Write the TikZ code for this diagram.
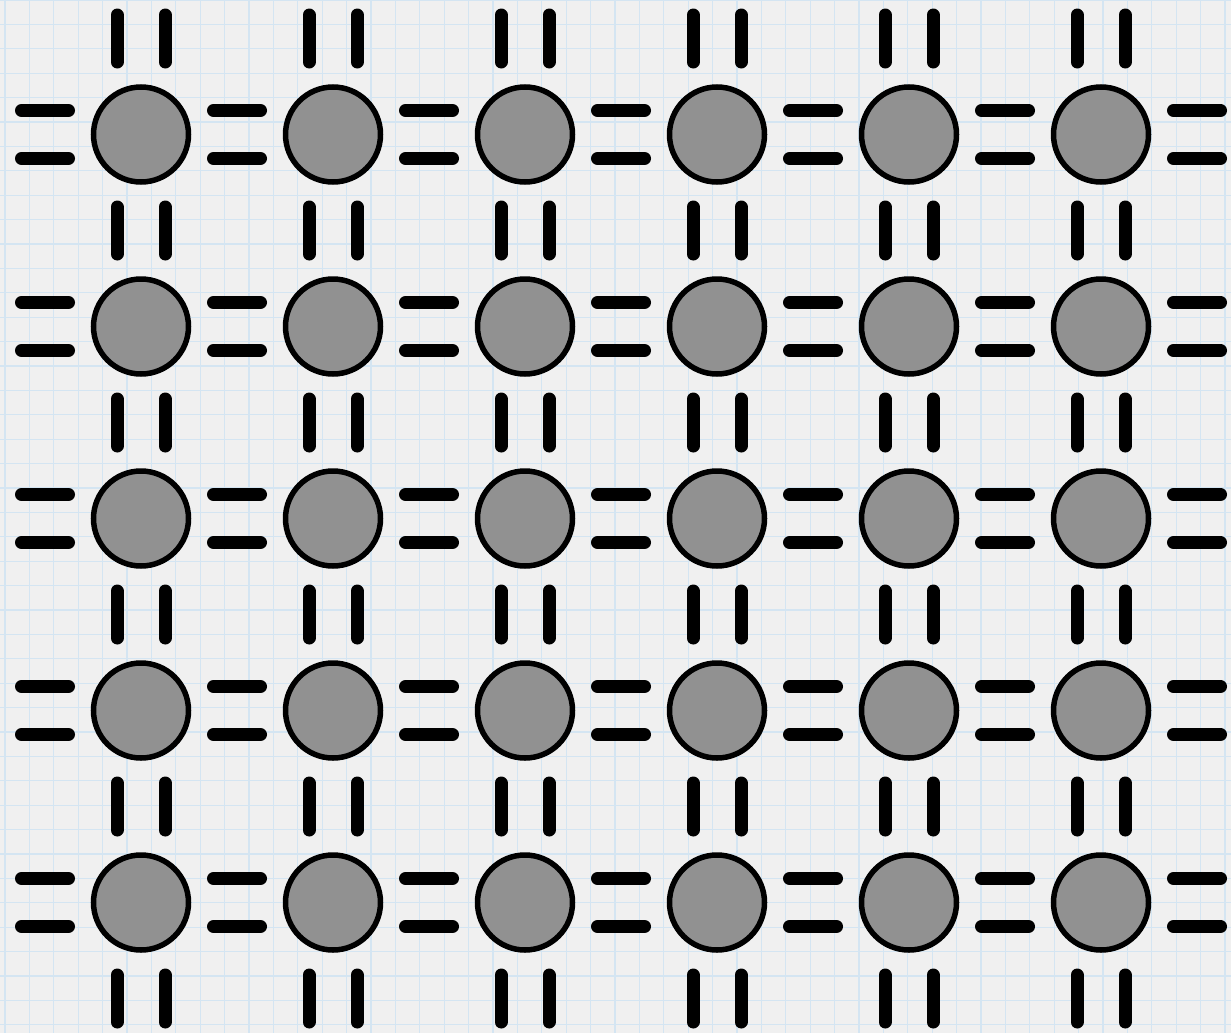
\documentclass[tikz,border=0pt]{standalone}
\usepackage{tikz}
\usetikzlibrary{calc}
\definecolor{paper}{RGB}{240,240,240}
\definecolor{paperline}{RGB}{212,229,242}
\definecolor{sitegray}{RGB}{145,145,145}
\tikzset{
  site/.style = {
    circle, draw=black, line width=2.75pt,
    fill=sitegray, minimum size=47.5pt, inner sep=0pt
  },
  bond/.style = {
    draw=black, line width=6.5pt, line cap=round,
    shorten <=36.25pt, shorten >=36.25pt
  },
  gridline/.style = {draw=paperline, line width=0.6pt}
}

\begin{document}
\begin{tikzpicture}[x=0.5pt, y=-0.5pt]

% ----- PAPER -----
\fill[paper] (0,0) rectangle (1231,1033);
\useasboundingbox (0,0) rectangle (1231,1033);
\foreach \gx in {0,...,50}
  \draw[gridline] ({5+24.4*\gx},0) -- ({5+24.4*\gx},1033);
\foreach \gy in {0,...,42}
  \draw[gridline] (0,{24.4*\gy}) -- (1231,{24.4*\gy});

% ----- LATTICE POINTS (outer ring = free ends) -----
\foreach \i in {0,...,7}
  \foreach \j in {0,...,6}
    \coordinate (n-\i-\j) at ({192*\i-51},{192*\j-57.5});

% ----- SITES -----
\foreach \i in {1,...,6}
  \foreach \j in {1,...,5}
    \node[site] (s-\i-\j) at (n-\i-\j) {};

% ----- BONDS -----
% horizontal double bars
\foreach \i [count=\k from 1] in {0,...,6}
  \foreach \j in {1,...,5} {
    \draw[bond] ([yshift=12pt]n-\i-\j) -- ([yshift=12pt]n-\k-\j);
    \draw[bond] ([yshift=-12pt]n-\i-\j) -- ([yshift=-12pt]n-\k-\j);
  }
% vertical double bars
\foreach \j [count=\k from 1] in {0,...,5}
  \foreach \i in {1,...,6} {
    \draw[bond] ([xshift=12pt]n-\i-\j) -- ([xshift=12pt]n-\i-\k);
    \draw[bond] ([xshift=-12pt]n-\i-\j) -- ([xshift=-12pt]n-\i-\k);
  }

\end{tikzpicture}
\end{document}
